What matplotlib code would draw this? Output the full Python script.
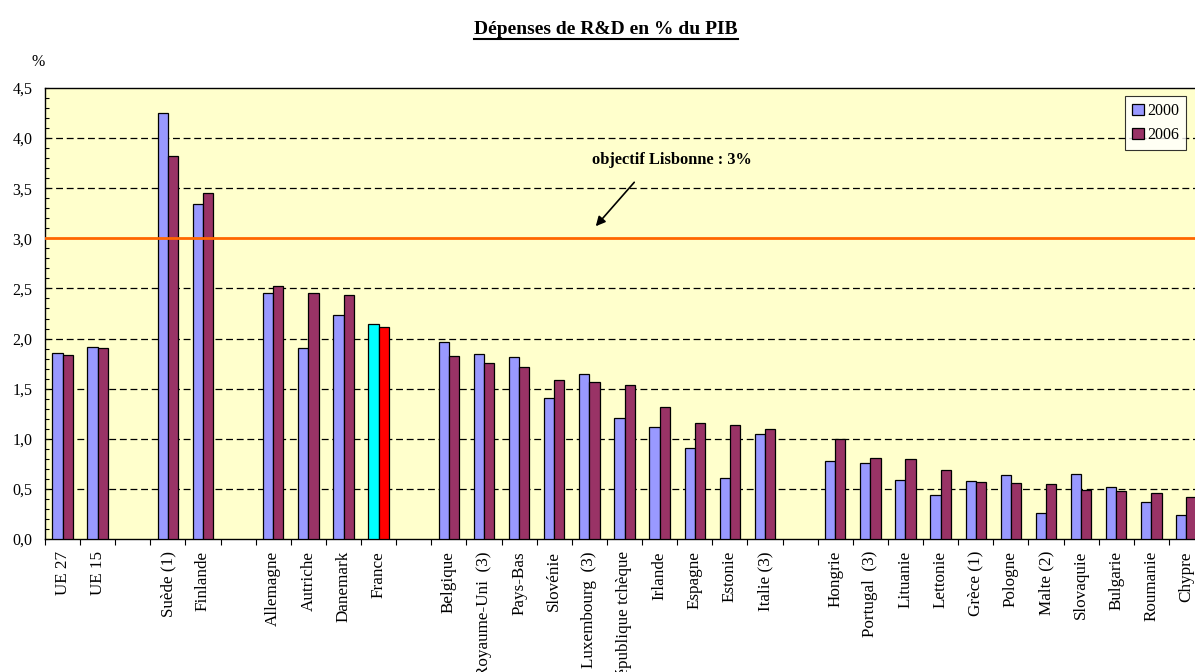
import numpy as np
import matplotlib
matplotlib.use("Agg")
import matplotlib.pyplot as plt
from matplotlib.lines import Line2D

plt.rcParams["font.family"] = ["Liberation Serif", "DejaVu Serif"]

countries = ["UE 27", "UE 15",
             "Suède (1)", "Finlande",
             "Allemagne", "Autriche", "Danemark", "France",
             "Belgique", "Royaume-Uni  (3)", "Pays-Bas", "Slovénie", "Luxembourg  (3)",
             "République tchèque", "Irlande", "Espagne", "Estonie", "Italie (3)",
             "Hongrie", "Portugal  (3)", "Lituanie", "Lettonie", "Grèce (1)", "Pologne",
             "Malte (2)", "Slovaquie", "Bulgarie", "Roumanie", "Chypre"]
group_sizes = [2, 2, 4, 10, 11]
v2000 = [1.86, 1.92,
         4.25, 3.34,
         2.45, 1.91, 2.24, 2.15,
         1.97, 1.85, 1.82, 1.41, 1.65, 1.21, 1.12, 0.91, 0.61, 1.05,
         0.78, 0.76, 0.59, 0.44, 0.58, 0.64, 0.26, 0.65, 0.52, 0.37, 0.24]
v2006 = [1.84, 1.91,
         3.82, 3.45,
         2.52, 2.45, 2.43, 2.12,
         1.83, 1.76, 1.72, 1.59, 1.57, 1.54, 1.32, 1.16, 1.14, 1.10,
         1.00, 0.81, 0.80, 0.69, 0.57, 0.56, 0.55, 0.49, 0.48, 0.46, 0.42]
highlight = "France"
target = 3.0

# slot positions: one empty slot between groups
pos = []
s = 0
for g in group_sizes:
    pos += list(range(s, s + g))
    s += g + 1
nslots = s - 1
x = np.array(pos) + 0.5

c00, c06 = "#9999FF", "#993366"
cols00 = ["#00FFFF" if c == highlight else c00 for c in countries]
cols06 = ["#FF0000" if c == highlight else c06 for c in countries]

fig = plt.figure(figsize=(11.95, 6.72), dpi=100)
ax = fig.add_axes([45 / 1195, 133 / 672, 1159 / 1195, 451 / 672])
ax.set_facecolor("#FFFFCC")
w = 0.29
ax.bar(x - w / 2, v2000, w, color=cols00, edgecolor="black", lw=0.9, zorder=3, label="2000")
ax.bar(x + w / 2, v2006, w, color=cols06, edgecolor="black", lw=0.9, zorder=3, label="2006")
ax.axhline(target, color="#FF6600", lw=2, zorder=4)

ax.set_xlim(0, nslots)
ax.set_ylim(0, 4.5)
yt = np.arange(0, 4.51, 0.5)
ax.set_yticks(yt)
ax.set_yticklabels([f"{v:.1f}".replace(".", ",") for v in yt], fontsize=11.5)
ax.set_yticks(np.arange(0, 4.51, 0.1), minor=True)
ax.tick_params(axis="y", which="both", direction="in", length=3, width=0.8, pad=9)
ax.set_xticks(np.arange(0, nslots + 1))
ax.set_xticklabels([])
ax.tick_params(axis="x", which="major", direction="out", length=4, width=0.8)
for xi, lab in zip(x, countries):
    ax.text(xi, -0.12, lab, rotation=90, ha="center", va="top", fontsize=12.3, clip_on=False)
for yv in yt[1:-1]:
    if yv != target:
        ax.axhline(yv, color="black", lw=0.9, ls=(0, (5.5, 3.0)), zorder=1)
for sp in ax.spines.values():
    sp.set_linewidth(1.0)

ax.annotate("", xy=(15.63, 3.10), xytext=(16.83, 3.58),
            arrowprops=dict(arrowstyle="-|>", color="black", lw=1.2, mutation_scale=14))
ax.text(17.85, 3.78, "objectif Lisbonne : 3%", ha="center", va="center", fontsize=11.8, weight="bold")

fig.text(38 / 1195, 1 - 62 / 672, "%", ha="center", va="center", fontsize=11.5)

leg = ax.legend(loc="upper right", bbox_to_anchor=(1186 / 1195, 1 - 96 / 672),
                bbox_transform=fig.transFigure, fontsize=11.5, frameon=True, fancybox=False,
                edgecolor="black", handlelength=0.7, handleheight=0.7, handletextpad=0.2,
                borderpad=0.45, labelspacing=0.5, borderaxespad=0)
leg.get_frame().set_linewidth(0.8)
leg.legend_handles[0].set_facecolor(c00)
leg.legend_handles[1].set_facecolor(c06)

t = fig.text(606 / 1195, 1 - 30 / 672, "Dépenses de R&D en % du PIB", ha="center", va="center",
             fontsize=14, weight="bold")
fig.canvas.draw()
bb = t.get_window_extent().transformed(fig.transFigure.inverted())
fig.add_artist(Line2D([bb.x0, bb.x1], [bb.y0 - 0.001, bb.y0 - 0.001], color="black", lw=1.5,
                      transform=fig.transFigure))

fig.savefig("out.png", dpi=100)
